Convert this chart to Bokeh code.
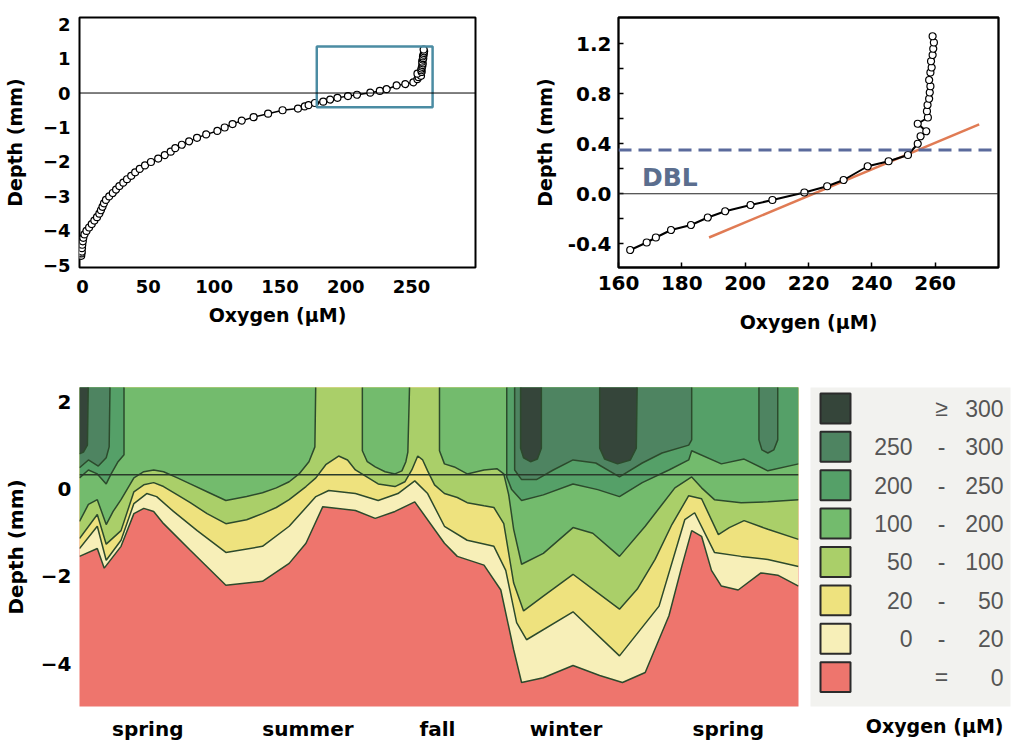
from bokeh.plotting import figure
from bokeh.layouts import column, row
from bokeh.models import FixedTicker, Label, Span, PrintfTickFormatter, Title
from bokeh.embed import file_html
from bokeh.resources import INLINE
from bokeh.core.properties import value

# ---------------- top-left: full oxygen micro-profile ----------------
deep_o2 = [-1.0, -0.8, -0.6, -0.4, -0.2, 0.2, 0.6, 1.5, 3.0, 5.0, 7.0, 9.0, 11.0, 12.8, 14.0,
           15.2, 16.3, 17.8, 20.3, 23.0, 25.5, 28.0, 31.0, 33.8, 37.0, 40.0, 43.5, 47.5, 52.0,
           57.5, 62.5, 67.0, 70.5, 75.5, 81.0, 87.0, 94.0, 102.5, 108.0, 114.0, 121.0, 130.0,
           141.0, 152.0]
deep_depth = [-4.72, -4.65, -4.6, -4.5, -4.4, -4.3, -4.2, -4.1, -4.0, -3.9, -3.8, -3.7, -3.6,
              -3.5, -3.4, -3.3, -3.2, -3.1, -3.0, -2.9, -2.8, -2.7, -2.6, -2.5, -2.4, -2.3, -2.2,
              -2.1, -2.0, -1.9, -1.8, -1.7, -1.6, -1.5, -1.4, -1.3, -1.2, -1.1, -1.0, -0.9, -0.8,
              -0.7, -0.6, -0.5]

# ---------------- top-right: zoom on the diffusive boundary layer ----------------
dbl_o2 = [163.7, 168.9, 171.8, 176.6, 182.9, 188.2, 193.7, 201.7, 208.6, 218.7, 225.9, 231.1,
          238.7, 245.3, 251.4, 254.5, 255.4, 257.2, 254.5, 257.7, 257.4, 257.6, 258.1, 258.3,
          258.5, 258.1, 258.5, 258.9, 258.7, 259.2, 259.4, 259.6, 259.2]
dbl_depth = [-0.45, -0.39, -0.35, -0.29, -0.25, -0.19, -0.14, -0.09, -0.05, 0.01, 0.06, 0.11,
             0.22, 0.26, 0.31, 0.40, 0.46, 0.50, 0.56, 0.61, 0.66, 0.71, 0.76, 0.81, 0.86, 0.91,
             0.97, 1.01, 1.06, 1.11, 1.16, 1.21, 1.26]
fit_o2 = [188.6, 273.9]
fit_depth = [-0.35, 0.555]
dbl_level = 0.35
zoom_box = dict(left=178, right=266, bottom=-0.41, top=1.35)

# ---------------- bottom: seasonal contour of O2 (t = sampling time, arbitrary units) ----------------
seasons = ["spring", "summer", "fall", "winter", "spring"]
season_t = [69, 231, 362, 492, 656]
surface_depth = 0.33
TOP = 2.6  # contour continues up beyond the plotted window

b0_t = [0, 18, 25, 42, 55, 65, 75, 85, 112, 148, 185, 212, 229, 246, 279, 299, 319, 339, 369,
        382, 409, 426, 439, 447, 469, 499, 526, 549, 572, 596, 609, 619, 629, 639, 649, 666,
        689, 706, 727]
b0_d = [-1.54, -1.36, -1.81, -1.31, -0.56, -0.44, -0.51, -0.79, -1.40, -2.20, -2.11, -1.70,
        -1.24, -0.40, -0.49, -0.67, -0.51, -0.29, -1.24, -1.54, -1.74, -2.31, -3.68, -4.43,
        -4.32, -4.04, -4.27, -4.43, -4.20, -2.90, -1.77, -0.95, -1.08, -1.86, -2.22, -2.31,
        -1.92, -1.97, -2.22]

b20_t = [0, 18, 27, 42, 55, 68, 78, 95, 119, 148, 185, 212, 239, 252, 279, 302, 322, 339, 352,
         369, 392, 419, 431, 442, 452, 499, 546, 586, 612, 622, 642, 669, 696, 727]
b20_d = [-1.36, -0.85, -1.63, -1.17, -0.33, -0.10, -0.17, -0.51, -0.95, -1.45, -1.31, -0.85,
         -0.17, -0.03, -0.10, -0.26, -0.10, 0.19, -0.10, -0.85, -1.17, -1.31, -1.86, -3.06,
         -3.45, -2.81, -3.82, -2.68, -0.70, -0.54, -1.45, -1.54, -1.61, -1.77]

b50_t = [0, 18, 27, 42, 55, 65, 75, 85, 99, 112, 129, 148, 169, 185, 199, 212, 229, 239, 249,
         262, 271, 279, 302, 319, 329, 336, 342, 347, 352, 359, 369, 382, 392, 409, 419, 429,
         439, 449, 469, 499, 519, 546, 564, 582, 599, 616, 629, 646, 657, 672, 696, 727]
b50_d = [-1.13, -0.58, -1.26, -0.95, -0.06, 0.10, 0.15, 0.06, -0.13, -0.31, -0.56, -0.79,
         -0.70, -0.56, -0.42, -0.24, 0.06, 0.26, 0.56, 0.76, 0.67, 0.44, 0.12, 0.06, 0.17, 0.44,
         0.76, 0.67, 0.42, 0.10, -0.10, -0.19, -0.31, -0.38, -0.42, -0.79, -2.15, -2.79, -2.45,
         -1.95, -2.29, -2.75, -2.29, -1.61, -0.81, -0.15, -0.22, -1.04, -0.88, -0.72, -0.92,
         -1.15]

b100_seg1_t = [0, 9, 18, 27, 34, 42, 55, 65, 75, 85, 99, 112, 129, 148, 169, 185, 199, 212,
               222, 232, 238, 239]
b100_seg1_d = [-0.74, -0.35, -0.24, -0.81, -0.51, -0.24, 0.26, 0.40, 0.44, 0.40, 0.26, 0.12,
               -0.06, -0.26, -0.17, -0.08, 0.03, 0.17, 0.35, 0.63, 0.97, TOP]
b100_seg2_t = [286, 286, 291, 299, 309, 319, 326, 330, 332, 334]
b100_seg2_d = [TOP, 0.88, 0.63, 0.51, 0.40, 0.35, 0.42, 0.63, 0.85, TOP]
b100_seg3_t = [364, 364, 369, 379, 392, 409, 422, 429, 434, 439, 447, 469, 499, 519, 546, 572,
               589, 602, 619, 629, 642, 669, 696, 727]
b100_seg3_d = [TOP, 0.88, 0.58, 0.51, 0.35, 0.44, 0.47, 0.35, -0.13, -0.92, -1.72, -1.47,
               -0.88, -1.01, -1.54, -0.85, -0.35, 0.03, 0.28, 0.03, -0.24, -0.31, -0.29, -0.24]

b200_seg1_t = [0, 9, 18, 27, 32, 39, 45, 45]
b200_seg1_d = [0.26, 0.44, 0.35, 0.12, 0.35, 0.63, 0.79, TOP]
b200_seg2_t = [432, 432, 437, 447, 469, 499, 524, 546, 569, 596, 616, 619, 649, 672, 696, 727]
b200_seg2_d = [TOP, 0.28, -0.01, -0.26, -0.13, 0.12, -0.01, -0.17, 0.15, 0.44, 0.67, 0.88,
               0.58, 0.69, 0.42, 0.58]

b250_seg1_t = [0, 9, 19, 27, 30, 31]
b250_seg1_d = [0.49, 0.67, 0.53, 0.72, 0.97, TOP]
b250_seg2_t = [440, 440, 447, 462, 479, 499, 522, 546, 569, 589, 616, 619, 619]
b250_seg2_d = [TOP, 0.44, 0.22, 0.22, 0.44, 0.67, 0.60, 0.28, 0.60, 0.83, 1.01, 1.13, TOP]
b250_seg3_t = [687, 687, 690, 696, 702, 706, 706]
b250_seg3_d = [TOP, 1.13, 0.90, 0.83, 0.90, 1.13, TOP]

b300_seg1_t = [0, 4, 8, 9]
b300_seg1_d = [0.81, 0.85, 1.01, TOP]
b300_seg2_t = [446, 446, 449, 456, 463, 467, 467]
b300_seg2_d = [TOP, 0.94, 0.72, 0.63, 0.69, 0.94, TOP]
b300_seg3_t = [526, 526, 531, 544, 557, 563, 564]
b300_seg3_d = [TOP, 0.94, 0.69, 0.58, 0.67, 0.94, TOP]

# legend classes (top to bottom)
class_low = ["", "250", "200", "100", "50", "20", "0", ""]
class_sep = ["\u2265", "-", "-", "-", "-", "-", "-", "="]
class_high = ["300", "300", "250", "200", "100", "50", "20", "0"]
class_colors = ["#35453a", "#4e8461", "#55a068", "#73bb6d", "#aacf69", "#eee27e", "#f7efb8",
                "#ee756d"]

# ---------------------------------------------------------------------
BOLD = "DejaVu Sans"


def style_axes(p, tick_size, title_size):
    for ax in p.axis:
        ax.major_label_text_font = BOLD
        ax.major_label_text_font_style = "bold"
        ax.major_label_text_font_size = tick_size
        ax.major_label_text_color = "black"
        ax.axis_label_text_font = BOLD
        ax.axis_label_text_font_style = "bold"
        ax.axis_label_text_font_size = title_size
        ax.axis_label_text_color = "black"
        ax.axis_line_color = None
    p.grid.visible = False


# top-left
p1 = figure(width=530, height=380, x_range=(-2.3, 298.6), y_range=(-5.06, 2.19),
            output_backend="svg", toolbar_location=None,
            min_border_left=79, min_border_right=55, min_border_top=15, min_border_bottom=107)
style_axes(p1, "18px", "19px")
p1.outline_line_color = "black"
p1.outline_line_width = 2
p1.xaxis.ticker = FixedTicker(ticks=[0, 50, 100, 150, 200, 250])
p1.yaxis.ticker = FixedTicker(ticks=[-5, -4, -3, -2, -1, 0, 1, 2])
for ax in p1.axis:
    ax.major_tick_line_color = None
    ax.minor_tick_line_color = None
    ax.major_tick_out = 0
    ax.major_tick_in = 0
    ax.minor_tick_out = 0
p1.xaxis.major_label_standoff = 12
p1.xaxis.axis_label_standoff = 8
p1.yaxis.major_label_standoff = 9
p1.yaxis.axis_label_standoff = 14
p1.xaxis.axis_label = "Oxygen (µM)"
p1.yaxis.axis_label = "Depth (mm)"
p1.add_layout(Span(location=0, dimension="width", line_color="black", line_width=1))
full_o2 = deep_o2 + dbl_o2
full_depth = deep_depth + dbl_depth
p1.line(full_o2, full_depth, line_color="black", line_width=1.5)
p1.scatter(full_o2, full_depth, size=7, marker="circle", fill_color="white",
           line_color="black", line_width=1.2)
p1.quad(left=[zoom_box["left"]], right=[zoom_box["right"]], bottom=[zoom_box["bottom"]],
        top=[zoom_box["top"]], fill_color=None, line_color="#4b8ca3", line_width=2.5)

# top-right
p2 = figure(width=480, height=380, x_range=(160, 280), y_range=(-0.59, 1.41),
            output_backend="svg", toolbar_location=None,
            min_border_left=87, min_border_right=12, min_border_top=17, min_border_bottom=113)
style_axes(p2, "20px", "19px")
p2.outline_line_color = "black"
p2.outline_line_width = 2.3
p2.xaxis.ticker = FixedTicker(ticks=[160, 180, 200, 220, 240, 260])
p2.yaxis.ticker = FixedTicker(ticks=[-0.4, 0.0, 0.4, 0.8, 1.2], minor_ticks=[-0.2, 0.2, 0.6, 1.0])
p2.yaxis.formatter = PrintfTickFormatter(format="%.1f")
for ax in p2.axis:
    ax.major_tick_line_color = "black"
    ax.major_tick_line_width = 1.5
    ax.major_tick_in = 5
    ax.major_tick_out = 0
    ax.minor_tick_line_color = "black"
    ax.minor_tick_line_width = 1.5
    ax.minor_tick_in = 5
    ax.minor_tick_out = 0
p2.xaxis.minor_tick_line_color = None
p2.xaxis.major_label_standoff = 8
p2.xaxis.axis_label_standoff = 18
p2.yaxis.major_label_standoff = 7
p2.yaxis.axis_label_standoff = 9
p2.xaxis.axis_label = "Oxygen (µM)"
p2.yaxis.axis_label = "Depth (mm)"
p2.add_layout(Span(location=0, dimension="width", line_color="#222222", line_width=1))
p2.add_layout(Span(location=dbl_level, dimension="width", line_color="#5a6a9c",
                   line_width=3, line_dash="13 7"))
p2.add_layout(Label(x=167.4, y=0.13, text="DBL", text_font=BOLD, text_font_style="bold",
                    text_font_size="25px", text_color="#5b6e8e", text_baseline="alphabetic"))
p2.line(fit_o2, fit_depth, line_color="#e07b54", line_width=2.5)
p2.line(dbl_o2, dbl_depth, line_color="black", line_width=2)
p2.scatter(dbl_o2, dbl_depth, size=7, marker="circle", fill_color="white",
           line_color="black", line_width=1.2)

# bottom: contour
p3 = figure(width=810, height=365, x_range=(0, 727), y_range=(-4.98, 2.33),
            output_backend="svg", toolbar_location=None,
            min_border_left=71, min_border_right=12, min_border_top=7, min_border_bottom=37)
style_axes(p3, "20px", "20px")
p3.outline_line_color = None
p3.background_fill_color = class_colors[7]
p3.yaxis.ticker = FixedTicker(ticks=[-4, -2, 0, 2])
p3.xaxis.ticker = FixedTicker(ticks=season_t)
p3.xaxis.major_label_overrides = {t: s for t, s in zip(season_t, seasons)}
for ax in p3.axis:
    ax.major_tick_line_color = None
    ax.minor_tick_line_color = None
    ax.major_tick_out = 0
    ax.major_tick_in = 0
    ax.minor_tick_out = 0
p3.xaxis.major_label_standoff = 10
p3.yaxis.major_label_standoff = 8
p3.yaxis.axis_label_standoff = 10
p3.yaxis.axis_label = "Depth (mm)"

levels = [
    ([(b0_t, b0_d)], class_colors[6]),
    ([(b20_t, b20_d)], class_colors[5]),
    ([(b50_t, b50_d)], class_colors[4]),
    ([(b100_seg1_t, b100_seg1_d), (b100_seg2_t, b100_seg2_d), (b100_seg3_t, b100_seg3_d)],
     class_colors[3]),
    ([(b200_seg1_t, b200_seg1_d), (b200_seg2_t, b200_seg2_d)], class_colors[2]),
    ([(b250_seg1_t, b250_seg1_d), (b250_seg2_t, b250_seg2_d), (b250_seg3_t, b250_seg3_d)],
     class_colors[1]),
    ([(b300_seg1_t, b300_seg1_d), (b300_seg2_t, b300_seg2_d), (b300_seg3_t, b300_seg3_d)],
     class_colors[0]),
]
line_xs, line_ys = [], []
for segs, col in levels:
    xs = [list(t) + [t[-1], t[0]] for t, d in segs]
    ys = [list(d) + [TOP, TOP] for t, d in segs]
    p3.patches(xs=xs, ys=ys, fill_color=col, line_color=None)
    for t, d in segs:
        line_xs.append(list(t))
        line_ys.append(list(d))
p3.multi_line(xs=line_xs, ys=line_ys, line_color="#2c4a2c", line_width=1.5)
p3.add_layout(Span(location=surface_depth, dimension="width", line_color="#2a3a2a",
                   line_width=1.5))

# legend panel
p4 = figure(width=202, height=365, x_range=(0, 200), y_range=(0, 320),
            output_backend="svg", toolbar_location=None,
            min_border_left=0, min_border_right=2, min_border_top=6, min_border_bottom=39)
p4.axis.visible = False
p4.grid.visible = False
p4.outline_line_color = None
p4.background_fill_color = "#f2f2ef"
n = len(class_colors)
row_y = [299 - 38.5 * i for i in range(n)]
p4.rect(x=[25] * n, y=row_y, width=30, height=30, fill_color=class_colors,
        line_color="#2b2b2b", line_width=2)
LEG = value("Liberation Sans")
p4.text(x=[102] * n, y=row_y, text=class_low, text_align="right", text_baseline="middle",
        text_font=LEG, text_font_size="23px", text_color="#555555")
p4.text(x=[131] * n, y=row_y, text=class_sep, text_align="center", text_baseline="middle",
        text_font=LEG, text_font_size="23px", text_color="#555555")
p4.text(x=[193] * n, y=row_y, text=class_high, text_align="right", text_baseline="middle",
        text_font=LEG, text_font_size="23px", text_color="#555555")
p4.add_layout(Title(text="Oxygen (µM)", align="right", text_font=BOLD,
                    text_font_style="bold", text_font_size="19px", text_color="black",
                    standoff=12, offset=7), "below")

layout = column(row(p1, p2), row(p3, p4))
open("out.html", "w").write(file_html(layout, INLINE))
